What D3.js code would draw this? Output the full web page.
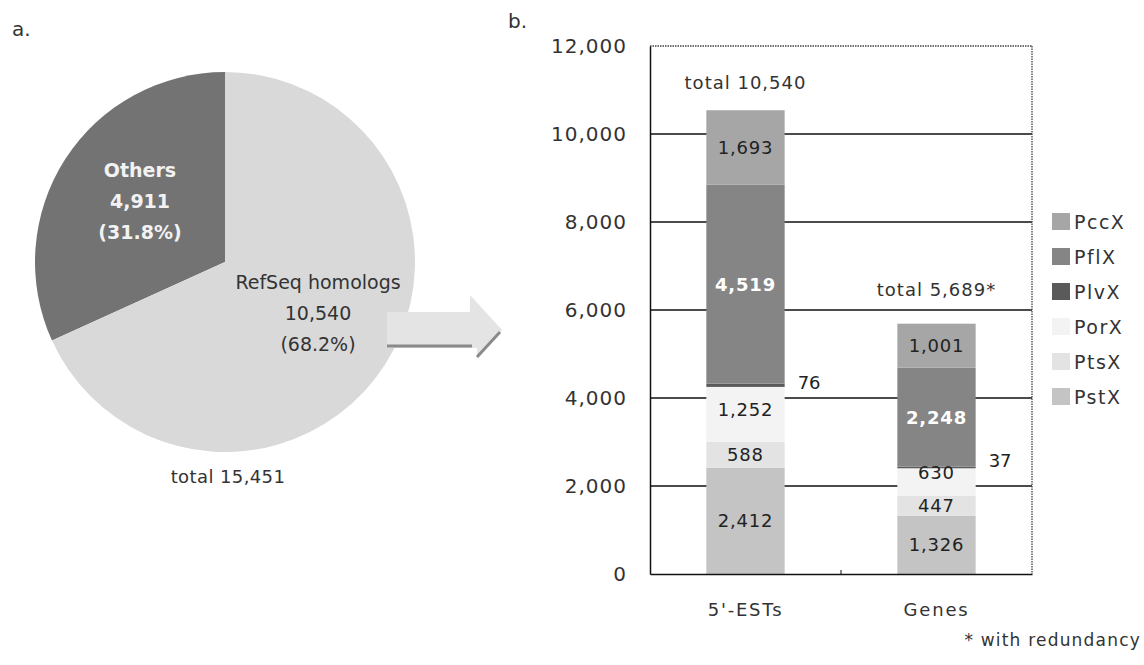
<!DOCTYPE html>
<html><head><meta charset="utf-8">
<script src="https://cdn.jsdelivr.net/npm/d3@7"></script>
<style>
body{margin:0;background:#fff;}
svg text{font-family:"DejaVu Sans",sans-serif;}
</style></head>
<body><svg id="c" width="1144" height="665"></svg>
<script>
// ---- data ----
const pieLabels = ["Others", "RefSeq homologs"];
const pieValues = [4911, 10540];
const piePercents = ["(31.8%)", "(68.2%)"];
const pieTotal = 15451;

const categories = ["5'-ESTs", "Genes"];
const seriesNames = ["PstX", "PtsX", "PorX", "PlvX", "PflX", "PccX"]; // bottom -> top
const PstX = [2412, 1326];
const PtsX = [588, 447];
const PorX = [1252, 630];
const PlvX = [76, 37];
const PflX = [4519, 2248];
const PccX = [1693, 1001];
const totalLabels = ["total 10,540", "total 5,689*"];
const yTicks = [0, 2000, 4000, 6000, 8000, 10000, 12000];
const legendOrder = ["PccX", "PflX", "PlvX", "PorX", "PtsX", "PstX"];

const seriesColors = {PstX:"#c4c4c4", PtsX:"#e3e3e3", PorX:"#f3f3f3", PlvX:"#5a5a5a", PflX:"#858585", PccX:"#a6a6a6"};
const labelColors = {PstX:"#222", PtsX:"#222", PorX:"#222", PlvX:"#222", PflX:"#fff", PccX:"#222"};

const svg = d3.select("#c");
const fmt = d3.format(",");

// ---- panel a: pie ----
svg.append("text").attr("x", 12).attr("y", 36).attr("font-size", 20).attr("fill", "#333").text("a.");
const cx = 225, cy = 262, R = 190;
const frac = pieValues[0] / d3.sum(pieValues);
const pie = d3.pie().sort(null).startAngle(-frac * 2 * Math.PI).endAngle(2 * Math.PI - frac * 2 * Math.PI);
const arcs = pie(pieValues);
const arc = d3.arc().innerRadius(0).outerRadius(R);
const pg = svg.append("g").attr("transform", `translate(${cx},${cy})`);
const pieColors = ["#737373", "#d9d9d9"];
pg.selectAll("path").data(arcs).join("path").attr("d", arc).attr("fill", (d, i) => pieColors[i]);

// pie labels
const pieLabelPos = [[-85, -92], [93, 20]];
const pieTextColors = ["#f2f2f2", "#333"];
arcs.forEach((a, i) => {
  const t = pg.append("text").attr("text-anchor", "middle").attr("font-size", 19)
    .attr("fill", pieTextColors[i]).attr("font-weight", i === 0 ? "bold" : "normal");
  const lines = [pieLabels[i], fmt(pieValues[i]), piePercents[i]];
  lines.forEach((l, j) => t.append("tspan").attr("x", pieLabelPos[i][0]).attr("y", pieLabelPos[i][1] + j * 31 + 7).text(l));
});
svg.append("text").attr("x", cx + 3).attr("y", 483).attr("text-anchor", "middle").attr("font-size", 18).attr("fill", "#333")
  .attr("letter-spacing", 0.4).text("total " + fmt(pieTotal));

// arrow
svg.append("path").attr("d", "M387,312 L470,312 L470,295 L502,330 L477,359 L477,348 L387,348 Z").attr("fill", "#e4e4e4");
svg.append("line").attr("x1", 387).attr("x2", 472).attr("y1", 346).attr("y2", 346).attr("stroke", "#8a8a8a").attr("stroke-width", 3);
svg.append("line").attr("x1", 477).attr("x2", 500).attr("y1", 357).attr("y2", 332).attr("stroke", "#8a8a8a").attr("stroke-width", 3);

// ---- panel b: stacked bars ----
svg.append("text").attr("x", 508).attr("y", 28).attr("font-size", 20).attr("fill", "#333").text("b.");
const x0 = 650, x1 = 1032, yBottom = 574, yTop = 46;
const x = d3.scaleBand().domain(categories).range([x0, x1]).paddingInner(0.59).paddingOuter(0.295);
const y = d3.scaleLinear().domain([0, 12000]).range([yBottom, yTop]);

// gridlines
svg.append("g").selectAll("line").data(yTicks.filter(v => v > 0 && v < 12000)).join("line")
  .attr("x1", x0).attr("x2", x1).attr("y1", d => y(d)).attr("y2", d => y(d))
  .attr("stroke", "#111").attr("stroke-width", 1.4);
// top & right dotted frame
svg.append("line").attr("x1", x0).attr("x2", x1).attr("y1", y(12000)).attr("y2", y(12000)).attr("stroke", "#444").attr("stroke-width", 1.3).attr("stroke-dasharray", "1.5,1");
svg.append("line").attr("x1", x1).attr("x2", x1).attr("y1", y(12000)).attr("y2", yBottom).attr("stroke", "#444").attr("stroke-width", 1.3).attr("stroke-dasharray", "1.5,1");

// y axis
const yAxis = svg.append("g").attr("transform", `translate(${x0},0)`)
  .call(d3.axisLeft(y).tickValues(yTicks).tickFormat(fmt).tickSize(0).tickPadding(23));
yAxis.select(".domain").attr("stroke", "#111").attr("stroke-width", 1.5);
yAxis.selectAll("text").attr("font-size", 20).attr("fill", "#333").attr("letter-spacing", 1)
  .attr("font-family", "DejaVu Sans");

// stacked data
const rows = categories.map((c, i) => {
  const r = {cat: c};
  const arrs = {PstX, PtsX, PorX, PlvX, PflX, PccX};
  seriesNames.forEach(s => r[s] = arrs[s][i]);
  return r;
});
const stack = d3.stack().keys(seriesNames)(rows);
const bars = svg.append("g");
stack.forEach(layer => {
  bars.selectAll(null).data(layer).join("rect")
    .attr("x", d => x(d.data.cat)).attr("width", x.bandwidth())
    .attr("y", d => y(d[1])).attr("height", d => y(d[0]) - y(d[1]))
    .attr("fill", seriesColors[layer.key]);
});

// x axis
const xAxis = svg.append("g").attr("transform", `translate(0,${yBottom})`)
  .call(d3.axisBottom(x).tickSize(0).tickPadding(29));
xAxis.select(".domain").attr("stroke", "#111").attr("stroke-width", 1.5);
xAxis.selectAll("text").attr("font-size", 18).attr("fill", "#333").attr("letter-spacing", 1.8).attr("font-family", "DejaVu Sans");
// tick between categories
svg.append("line").attr("x1", (x0 + x1) / 2).attr("x2", (x0 + x1) / 2).attr("y1", yBottom).attr("y2", yBottom - 4).attr("stroke", "#111");

// segment labels
const nudge = {"Genes|PorX": -10, "5'-ESTs|PorX": -5};
stack.forEach(layer => {
  layer.forEach(d => {
    const v = d[1] - d[0];
    const key = d.data.cat + "|" + layer.key;
    if (layer.key === "PlvX") {
      svg.append("text").attr("x", x(d.data.cat) + x.bandwidth() + 13).attr("y", y((d[0] + d[1]) / 2) + (d.data.cat === "Genes" ? -7 : -3))
        .attr("dominant-baseline", "central").attr("font-size", 18).attr("fill", "#222").text(fmt(v));
    } else {
      svg.append("text").attr("x", x(d.data.cat) + x.bandwidth() / 2).attr("y", y((d[0] + d[1]) / 2) + (nudge[key] || 0))
        .attr("text-anchor", "middle").attr("dominant-baseline", "central").attr("font-size", 18)
        .attr("letter-spacing", 0.8)
        .attr("fill", labelColors[layer.key]).attr("font-weight", layer.key === "PflX" ? "bold" : "normal").text(fmt(v));
    }
  });
});

// totals
const totals = rows.map(r => d3.sum(seriesNames, s => r[s]));
const totalOffsets = [-28, -34];
categories.forEach((c, i) => {
  svg.append("text").attr("x", x(c) + x.bandwidth() / 2).attr("y", y(totals[i]) + totalOffsets[i])
    .attr("text-anchor", "middle").attr("dominant-baseline", "central").attr("font-size", 18).attr("fill", "#333")
    .attr("letter-spacing", 1).text(totalLabels[i]);
});

// legend
const lg = svg.append("g").attr("transform", "translate(1052,222)");
legendOrder.forEach((s, i) => {
  lg.append("rect").attr("x", 0).attr("y", i * 35 - 9).attr("width", 18).attr("height", 17).attr("fill", seriesColors[s]);
  lg.append("text").attr("x", 22).attr("y", i * 35).attr("dominant-baseline", "central").attr("font-size", 19).attr("fill", "#333")
    .attr("letter-spacing", 1.5).text(s);
});

// footnote
svg.append("text").attr("x", 1141).attr("y", 646).attr("text-anchor", "end").attr("font-size", 17).attr("fill", "#333")
  .attr("letter-spacing", 1.2).text("* with redundancy");
</script></body></html>
